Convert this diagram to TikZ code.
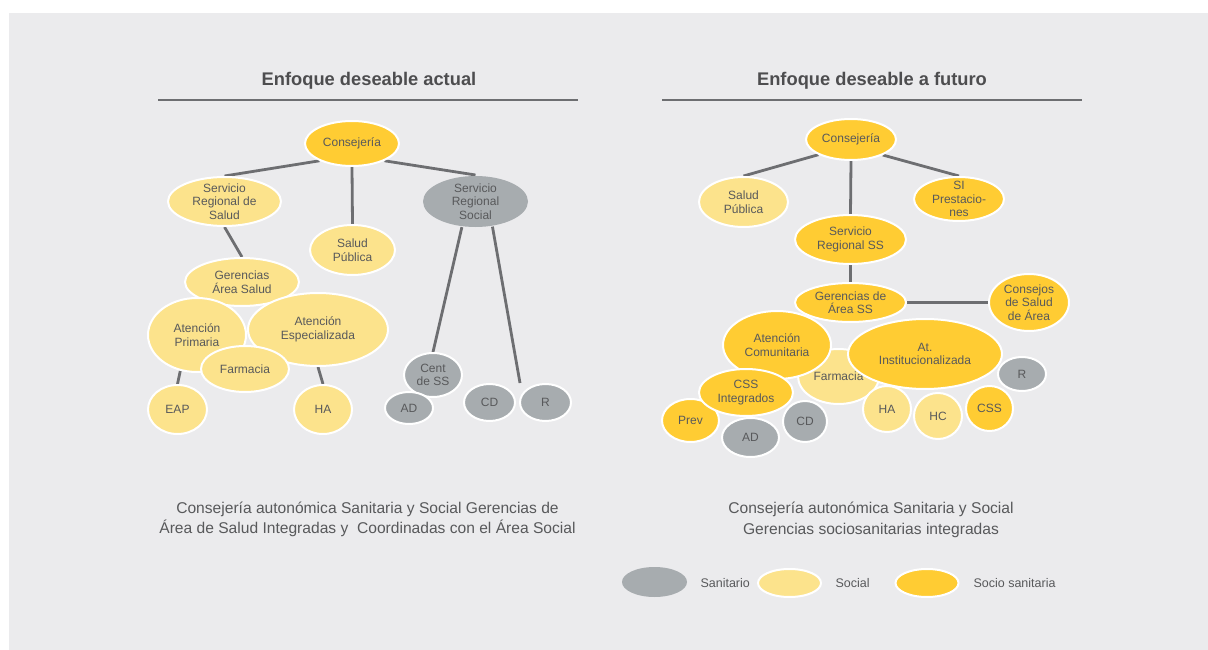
\documentclass[tikz,border=0pt]{standalone}
\usepackage{fontspec}
\setmainfont{Liberation Sans}
\usepackage{tikz}
\usetikzlibrary{shapes.geometric,backgrounds}
\definecolor{fondo}{HTML}{EBEBED}
\definecolor{gris}{HTML}{A7ACAF}
\definecolor{claro}{HTML}{FCE38C}
\definecolor{fuerte}{HTML}{FFCC33}
\definecolor{linea}{HTML}{6D6E71}
\definecolor{texto}{HTML}{58595B}
\definecolor{tit}{HTML}{4D4D4F}
\tikzset{
  nodo/.style={ellipse, draw=white, line width=2pt, inner sep=-8pt, align=center, text=texto, font=\fontsize{12}{13.5}\selectfont},
  san/.style={nodo, fill=gris},
  soc/.style={nodo, fill=claro},
  socsan/.style={nodo, fill=fuerte},
  tam/.style 2 args={minimum width=#1pt, minimum height=#2pt},
  enlace/.style={draw=linea, line width=2.8pt},
  regla/.style={draw=linea, line width=2.6pt},
  titulo/.style={text=tit, font=\bfseries\fontsize{18.3}{21}\selectfont},
  pie/.style={text=texto, align=center, font=\fontsize{15.6}{20.5}\selectfont},
  ley/.style={text=texto, anchor=west, font=\fontsize{12.5}{15}\selectfont},
}
\begin{document}
\begin{tikzpicture}[x=1pt,y=-1pt]
  \useasboundingbox (0,0) rectangle (1208,650);
  \begin{scope}[on background layer]
    \fill[white] (0,0) rectangle (1208,650);
    \fill[fondo] (9,13) rectangle (1208,650);
  \end{scope}

  % titulos
  \node[titulo] (tA) at (369,81) {Enfoque deseable actual};
  \node[titulo] (tF) at (872,81) {Enfoque deseable a futuro};
  \draw[regla] (158,100) -- (578,100);
  \draw[regla] (662,100) -- (1082,100);

  % enfoque actual
  \node[socsan,tam={94}{45}] (cL) at (352,143.5) {Consejería};
  \node[soc,tam={113}{49}] (srs) at (224.5,201.5) {Servicio\\Regional de\\Salud};
  \node[soc,tam={85}{50}] (spL) at (352.5,250) {Salud\\Pública};
  \node[san,draw=none,tam={105}{51}] (srsoc) at (475.5,201.5) {Servicio\\Regional\\Social};
  \node[soc,tam={114}{48}] (gas) at (242,282) {Gerencias\\Área Salud};
  \node[soc,tam={98}{74}] (ap) at (197,335) {Atención\\Primaria};
  \node[soc,tam={140}{73}] (ae) at (318,329.5) {Atención\\Especializada};
  \node[soc,tam={88}{46}] (farL) at (245,369) {Farmacia};
  \node[soc,tam={59}{49}] (eap) at (177.5,409.5) {EAP};
  \node[soc,tam={58}{49}] (haL) at (323,409.5) {HA};
  \node[san,tam={58}{44}] (cent) at (433,375) {Cent\\de SS};
  \node[san,tam={48}{32}] (adL) at (409,408) {AD};
  \node[san,tam={51}{37}] (cdL) at (489.5,402.5) {CD};
  \node[san,tam={51}{37}] (rL) at (545.5,402.5) {R};
  \coordinate (finR) at (520,383);

  % enfoque a futuro
  \node[socsan,tam={90}{41}] (cR) at (851,139.5) {Consejería};
  \node[soc,tam={89}{50}] (spR) at (743.5,202) {Salud\\Pública};
  \node[socsan,tam={90}{44}] (sip) at (959,199) {SI\\Prestacio-\\nes};
  \node[socsan,tam={111}{49}] (srss) at (850.5,239.5) {Servicio\\Regional SS};
  \node[soc,tam={81}{55}] (farR) at (838.5,376.5) {Farmacia};
  \node[san,tam={48}{34}] (rR) at (1022,374) {R};
  \node[socsan,tam={47}{45}] (cssR) at (989.5,408.5) {CSS};
  \node[soc,tam={48}{46}] (haR) at (887,409) {HA};
  \node[soc,tam={48}{46}] (hc) at (938,416) {HC};
  \node[socsan,tam={154}{70}] (ati) at (925,354) {At.\\Institucionalizada};
  \node[socsan,tam={108}{68}] (ac) at (777,345) {Atención\\Comunitaria};
  \node[socsan,tam={111}{39}] (gas2) at (850.5,302.5) {Gerencias de\\Área SS};
  \node[socsan,tam={80}{57}] (csa) at (1029,302.5) {Consejos\\de Salud\\de Área};
  \node[socsan,tam={57}{43}] (prev) at (690.5,420.5) {Prev};
  \node[san,tam={57}{39}] (adR) at (750.5,437.5) {AD};
  \node[socsan,tam={94}{47}] (cssi) at (746,392.5) {CSS\\Integrados};
  \node[san,tam={44}{41}] (cdR) at (805,421.5) {CD};

  \begin{scope}[on background layer]
    \draw[enlace] (cL.208) -- (srs.north);
    \draw[enlace] (cL.south) -- (spL.north);
    \draw[enlace] (cL.332) -- (srsoc.north);
    \draw[enlace] (srs.south) -- (gas.north);
    \draw[enlace] (srsoc.242) -- (cent.north);
    \draw[enlace] (srsoc.304) -- (finR);
    \draw[enlace] (ap.245) -- (eap.north);
    \draw[enlace] (ae.south) -- (haL.north);
    \draw[enlace] (cR.205) -- (spR.north);
    \draw[enlace] (cR.south) -- (srss.north);
    \draw[enlace] (cR.334) -- (sip.north);
    \draw[enlace] (srss.south) -- (gas2.north);
    \draw[enlace] (gas2.east) -- (csa.west);
  \end{scope}

  % pies
  \node[pie] (pA) at (367.5,519.5) {Consejería autonómica Sanitaria y Social Gerencias de\\Área de Salud Integradas y~~Coordinadas con el Área Social};
  \node[pie] (pF) at (871,520) {Consejería autonómica Sanitaria y Social\\Gerencias sociosanitarias integradas};

  % leyenda
  \node[san,draw=none,tam={65}{30}] (lSan) at (654.5,582) {};
  \node[ley] (tSan) at (697,583) {Sanitario};
  \node[soc,tam={63}{28}] (lSoc) at (789.5,583) {};
  \node[ley] (tSoc) at (832,583) {Social};
  \node[socsan,tam={63}{28}] (lSS) at (927,583) {};
  \node[ley] (tSS) at (970,583) {Socio sanitaria};
\end{tikzpicture}
\end{document}
